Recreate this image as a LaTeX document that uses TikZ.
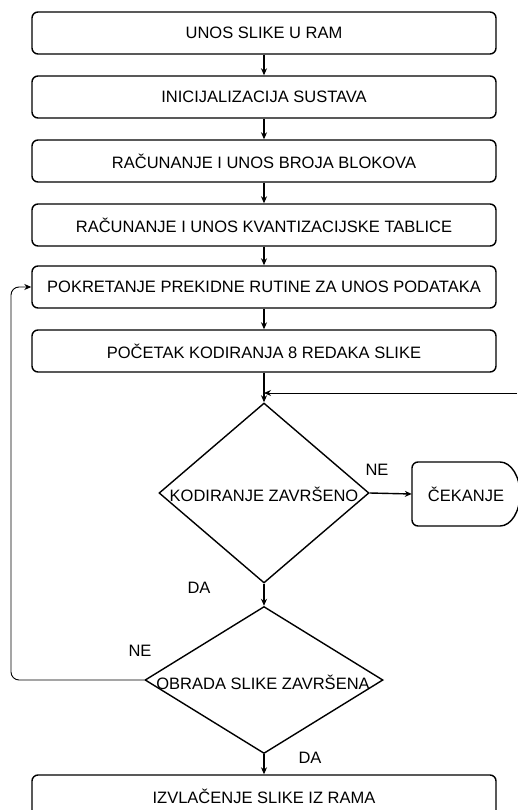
\documentclass[tikz,border=0pt]{standalone}
\usepackage{fontspec}
\setmainfont{Liberation Sans}
\usetikzlibrary{arrows.meta,shapes.geometric}
\begin{document}
\begin{tikzpicture}[x=1pt,y=-1pt,
  font=\fontsize{16.5}{19}\selectfont,
  box/.style={draw,line width=1.4pt,rounded corners=6pt,minimum width=464pt,minimum height=42pt,inner sep=0pt},
  dia/.style={draw,diamond,line width=1.4pt,inner sep=0pt},
  flow/.style={line width=1.4pt,-{Stealth[length=7pt,width=6pt]}},
  thin/.style={line width=0.9pt,-{Stealth[length=7pt,width=6pt]}},
  lbl/.style={inner sep=0pt}]
\useasboundingbox (0,0) rectangle (517,810);
\node[box] (b1) at (264,33) {UNOS SLIKE U RAM};
\node[box] (b2) at (264,97) {INICIJALIZACIJA SUSTAVA};
\node[box] (b3) at (264,161) {RAČUNANJE I UNOS BROJA BLOKOVA};
\node[box] (b4) at (264,225) {RAČUNANJE I UNOS KVANTIZACIJSKE TABLICE};
\node[box] (b5) at (264,287) {POKRETANJE PREKIDNE RUTINE ZA UNOS PODATAKA};
\node[box] (b6) at (264,351) {POČETAK KODIRANJA 8 REDAKA SLIKE};
\node[dia,minimum width=210pt,minimum height=180pt] (d1) at (264,493) {};
\node[lbl] (t1) at (264,494) {KODIRANJE ZAVRŠENO};
\node[dia,minimum width=238pt,minimum height=147pt] (d2) at (264,680) {};
\node[lbl] (t2) at (263,682) {OBRADA SLIKE ZAVRŠENA};
\node[box] (b7) at (264,796) {IZVLAČENJE SLIKE IZ RAMA};
% CEKANJE (delay shape)
\node[minimum width=108pt,minimum height=64pt,inner sep=0pt] (cek) at (466,494) {ČEKANJE};
\draw[line width=1.4pt] (500,462) -- (418,462) arc[start angle=90,end angle=180,radius=6pt] -- (412,520) arc[start angle=180,end angle=270,radius=6pt] -- (500,526) arc[start angle=-90,end angle=90,x radius=20pt,y radius=32pt];
\coordinate (j) at (264,393);
\coordinate (r) at (517,393);
\draw[flow] (b1) -- (b2);
\draw[flow] (b2) -- (b3);
\draw[flow] (b3) -- (b4);
\draw[flow] (b4) -- (b5);
\draw[flow] (b5) -- (b6);
\draw[flow] (b6) -- (d1.north);
\draw[thin] (r) -- (j);
\draw[flow] (d1.east) -- (cek.west);
\draw[flow] (d1.south) -- (d2.north);
\draw[flow] (d2.south) -- (b7.north);
\draw[thin,rounded corners=8pt] (d2.west) -- (11,680) |- (b5.west);
\node[lbl] (ne1) at (377,470) {NE};
\node[lbl] (da1) at (199,588) {DA};
\node[lbl] (ne2) at (140,651) {NE};
\node[lbl] (da2) at (310,758) {DA};
\end{tikzpicture}
\end{document}
